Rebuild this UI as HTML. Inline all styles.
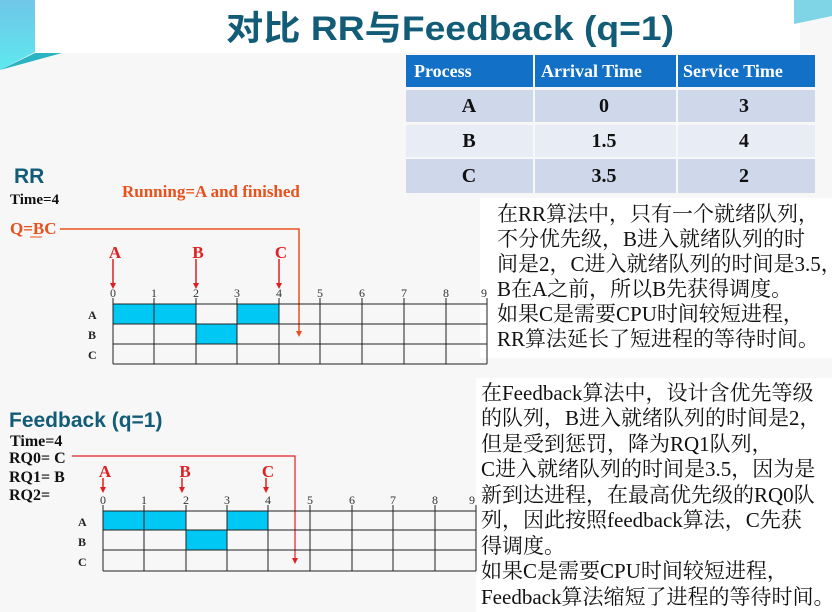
<!DOCTYPE html>
<html><head><meta charset="utf-8"><style>
html,body{margin:0;padding:0;background:#fff;}
svg{display:block;}
.cn{font-family:"Liberation Serif","Noto Serif CJK SC",serif;font-size:21px;fill:#111;}
.b{font-family:"Liberation Serif",serif;font-weight:bold;}
.s{font-family:"Liberation Sans",sans-serif;}
</style></head><body>
<svg width="832" height="612" viewBox="0 0 832 612" xmlns="http://www.w3.org/2000/svg">
<defs>
<linearGradient id="g1" x1="0" y1="0" x2="0" y2="1"><stop offset="0" stop-color="#6fc6e6"/><stop offset="1" stop-color="#5ee8f0"/></linearGradient>
</defs>
<rect x="0" y="0" width="832" height="612" fill="#f7f7f7"/>
<rect x="35" y="0" width="765" height="53" fill="#fff"/>
<path d="M0,0 L35,0 L35,52 L0,70 z" fill="url(#g1)"/>
<path d="M0,70 L62,53 L35,53 z" fill="#2ab3c0"/>
<path d="M794,0 L832,0 L832,16 L794,24 z" fill="#7fd4e6"/>
<rect x="480" y="198" width="352" height="160" fill="#fff"/>
<rect x="476" y="378" width="356" height="234" fill="#fff"/>

<text x="450" y="40" text-anchor="middle" font-family="Liberation Sans,Noto Sans CJK SC,sans-serif" font-size="34" font-weight="bold" fill="#125c78" textLength="448" lengthAdjust="spacingAndGlyphs">对比 RR与Feedback (q=1)</text>

<!-- table -->
<g font-family="Liberation Serif,serif" font-weight="bold" font-size="18">
<rect x="406" y="55" width="127" height="32" fill="#1270c6"/>
<rect x="535" y="55" width="141" height="32" fill="#1270c6"/>
<rect x="678" y="55" width="137" height="32" fill="#1270c6"/>
<text x="414" y="77" fill="#fff">Process</text>
<text x="541" y="77" fill="#fff">Arrival Time</text>
<text x="683" y="77" fill="#fff">Service Time</text>
<rect x="406" y="90" width="127" height="32" fill="#cfd7ea"/><rect x="535" y="90" width="141" height="32" fill="#cfd7ea"/><rect x="678" y="90" width="137" height="32" fill="#cfd7ea"/>
<rect x="406" y="125" width="127" height="32" fill="#e8ecf5"/><rect x="535" y="125" width="141" height="32" fill="#e8ecf5"/><rect x="678" y="125" width="137" height="32" fill="#e8ecf5"/>
<rect x="406" y="159" width="127" height="34" fill="#cfd7ea"/><rect x="535" y="159" width="141" height="34" fill="#cfd7ea"/><rect x="678" y="159" width="137" height="34" fill="#cfd7ea"/>
<g text-anchor="middle" fill="#111" font-size="20">
<text x="469" y="112">A</text><text x="604" y="112">0</text><text x="744" y="112">3</text>
<text x="469" y="147">B</text><text x="604" y="147">1.5</text><text x="744" y="147">4</text>
<text x="469" y="182">C</text><text x="604" y="182">3.5</text><text x="744" y="182">2</text>
</g></g>

<!-- RR -->
<text x="14" y="183" class="s" font-size="21" font-weight="bold" fill="#125c78">RR</text>
<text x="10" y="204" class="b" font-size="15" fill="#111">Time=4</text>
<text x="122" y="197" class="b" font-size="17" fill="#e8501c">Running=A  and finished</text>
<text x="10" y="234" class="b" font-size="17" fill="#e8501c">Q=BC</text>
<line x1="30" y1="237" x2="42" y2="237" stroke="#e8501c"/>
<polyline points="60,229 299,229 299,332" fill="none" stroke="#e8501c" stroke-width="1.5"/>
<path d="M296,331 L302,331 L299,337 z" fill="#e8501c"/>
<g stroke="#222" stroke-width="1" fill="none">
<rect x="113" y="304" width="83" height="20" fill="#00c8f5" stroke="none"/>
<rect x="237" y="304" width="42" height="20" fill="#00c8f5" stroke="none"/>
<rect x="196" y="324" width="41" height="20" fill="#00c8f5" stroke="none"/>
<line x1="113" y1="304" x2="487" y2="304"/><line x1="113" y1="324" x2="487" y2="324"/><line x1="113" y1="344" x2="487" y2="344"/><line x1="113" y1="364" x2="487" y2="364"/>
<line x1="113" y1="298" x2="113" y2="364"/><line x1="154" y1="298" x2="154" y2="364"/><line x1="196" y1="298" x2="196" y2="364"/><line x1="237" y1="298" x2="237" y2="364"/><line x1="279" y1="298" x2="279" y2="364"/><line x1="320" y1="298" x2="320" y2="364"/><line x1="362" y1="298" x2="362" y2="364"/><line x1="404" y1="298" x2="404" y2="364"/><line x1="446" y1="298" x2="446" y2="364"/><line x1="487" y1="298" x2="487" y2="364"/>
</g>
<g font-family="Liberation Serif,serif" font-size="12" fill="#333" text-anchor="middle">
<text x="113" y="297">0</text><text x="154" y="297">1</text><text x="196" y="297">2</text><text x="237" y="297">3</text><text x="279" y="297">4</text><text x="320" y="297">5</text><text x="362" y="297">6</text><text x="404" y="297">7</text><text x="446" y="297">8</text><text x="484" y="297">9</text>
</g>
<g class="b" font-size="12" fill="#222"><text x="88" y="319">A</text><text x="88" y="339">B</text><text x="88" y="359">C</text></g>
<g class="b" font-size="17" fill="#e02020" text-anchor="middle"><text x="115" y="258">A</text><text x="198" y="258">B</text><text x="281" y="258">C</text></g>
<g stroke="#e02020" stroke-width="1.5"><line x1="113" y1="259" x2="113" y2="284"/><line x1="196" y1="259" x2="196" y2="284"/><line x1="279" y1="259" x2="279" y2="284"/></g>
<g fill="#e02020"><path d="M110,283 L116,283 L113,289 z"/><path d="M193,283 L199,283 L196,289 z"/><path d="M276,283 L282,283 L279,289 z"/></g>

<!-- Feedback -->
<text x="9" y="427" class="s" font-size="21" font-weight="bold" fill="#125c78">Feedback (q=1)</text>
<g class="b" font-size="16" fill="#111">
<text x="10" y="446">Time=4</text><text x="9" y="463">RQ0= C</text><text x="9" y="482">RQ1= B</text><text x="9" y="500">RQ2=</text></g>
<polyline points="72,456 295,456 295,559" fill="none" stroke="#e02020" stroke-width="1.2"/>
<path d="M292,558 L298,558 L295,564 z" fill="#e02020"/>
<g stroke="#222" stroke-width="1" fill="none">
<rect x="103" y="511" width="83" height="19" fill="#00c8f5" stroke="none"/>
<rect x="227" y="511" width="41" height="19" fill="#00c8f5" stroke="none"/>
<rect x="186" y="530" width="41" height="20" fill="#00c8f5" stroke="none"/>
<line x1="103" y1="511" x2="476" y2="511"/><line x1="103" y1="530" x2="476" y2="530"/><line x1="103" y1="550" x2="476" y2="550"/><line x1="103" y1="571" x2="476" y2="571"/>
<line x1="103" y1="505" x2="103" y2="571"/><line x1="144" y1="505" x2="144" y2="571"/><line x1="186" y1="505" x2="186" y2="571"/><line x1="227" y1="505" x2="227" y2="571"/><line x1="268" y1="505" x2="268" y2="571"/><line x1="310" y1="505" x2="310" y2="571"/><line x1="352" y1="505" x2="352" y2="571"/><line x1="393" y1="505" x2="393" y2="571"/><line x1="435" y1="505" x2="435" y2="571"/><line x1="476" y1="505" x2="476" y2="571"/>
</g>
<g font-family="Liberation Serif,serif" font-size="12" fill="#333" text-anchor="middle">
<text x="103" y="504">0</text><text x="144" y="504">1</text><text x="186" y="504">2</text><text x="227" y="504">3</text><text x="268" y="504">4</text><text x="310" y="504">5</text><text x="352" y="504">6</text><text x="393" y="504">7</text><text x="435" y="504">8</text><text x="472" y="504">9</text>
</g>
<g class="b" font-size="12" fill="#222"><text x="78" y="526">A</text><text x="78" y="546">B</text><text x="78" y="566">C</text></g>
<g class="b" font-size="17" fill="#e02020" text-anchor="middle"><text x="105" y="477">A</text><text x="185" y="477">B</text><text x="268" y="477">C</text></g>
<g stroke="#e02020" stroke-width="1.5"><line x1="103" y1="478" x2="103" y2="488"/><line x1="182" y1="478" x2="182" y2="488"/><line x1="266" y1="478" x2="266" y2="488"/></g>
<g fill="#e02020"><path d="M100,487 L106,487 L103,493 z"/><path d="M179,487 L185,487 L182,493 z"/><path d="M263,487 L269,487 L266,493 z"/></g>

<!-- paragraphs -->
<g class="cn">
<text x="497" y="221">在RR算法中，只有一个就绪队列，</text>
<text x="497" y="246">不分优先级，B进入就绪队列的时</text>
<text x="497" y="271">间是2，C进入就绪队列的时间是3.5，</text>
<text x="497" y="296">B在A之前，所以B先获得调度。</text>
<text x="497" y="321">如果C是需要CPU时间较短进程，</text>
<text x="497" y="346">RR算法延长了短进程的等待时间。</text>
<text x="481" y="400">在Feedback算法中，设计含优先等级</text>
<text x="481" y="425">的队列，B进入就绪队列的时间是2，</text>
<text x="481" y="451">但是受到惩罚，降为RQ1队列，</text>
<text x="481" y="476">C进入就绪队列的时间是3.5，因为是</text>
<text x="481" y="502">新到达进程，在最高优先级的RQ0队</text>
<text x="481" y="527">列，因此按照feedback算法，C先获</text>
<text x="481" y="553">得调度。</text>
<text x="481" y="578">如果C是需要CPU时间较短进程，</text>
<text x="481" y="604">Feedback算法缩短了进程的等待时间。</text>
</g>
</svg>
</body></html>
